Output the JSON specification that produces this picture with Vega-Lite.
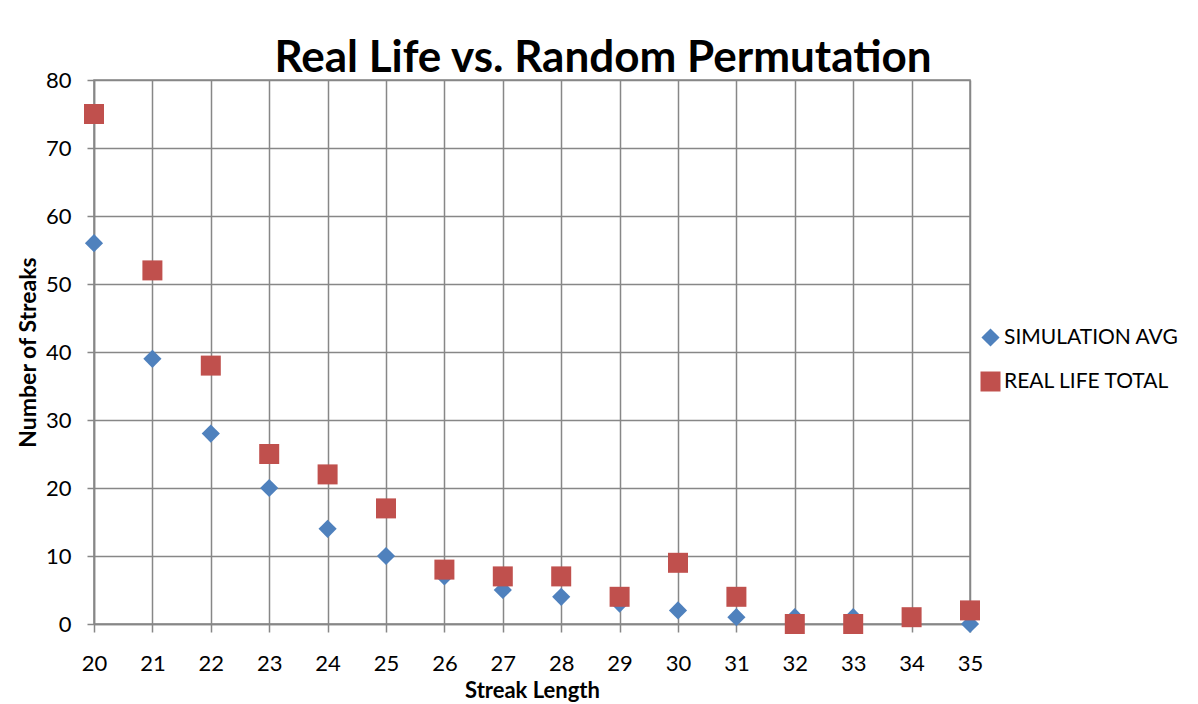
{
  "$schema": "https://vega.github.io/schema/vega-lite/v6.json",
  "width": 876,
  "height": 544,
  "autosize": {"type": "none"},
  "padding": {"left": 94, "top": 80, "right": 228, "bottom": 80},
  "background": "white",
  "title": {
    "text": "Real Life vs. Random Permutation",
    "font": "Lato",
    "fontSize": 44,
    "fontWeight": "bold",
    "color": "#000000",
    "anchor": "middle",
    "dx": 71,
    "offset": -12
  },
  "data": {
    "values": [
      {"len": 20, "series": "SIMULATION AVG", "n": 56},
      {"len": 21, "series": "SIMULATION AVG", "n": 39},
      {"len": 22, "series": "SIMULATION AVG", "n": 28},
      {"len": 23, "series": "SIMULATION AVG", "n": 20},
      {"len": 24, "series": "SIMULATION AVG", "n": 14},
      {"len": 25, "series": "SIMULATION AVG", "n": 10},
      {"len": 26, "series": "SIMULATION AVG", "n": 7},
      {"len": 27, "series": "SIMULATION AVG", "n": 5},
      {"len": 28, "series": "SIMULATION AVG", "n": 4},
      {"len": 29, "series": "SIMULATION AVG", "n": 3},
      {"len": 30, "series": "SIMULATION AVG", "n": 2},
      {"len": 31, "series": "SIMULATION AVG", "n": 1},
      {"len": 32, "series": "SIMULATION AVG", "n": 1},
      {"len": 33, "series": "SIMULATION AVG", "n": 1},
      {"len": 34, "series": "SIMULATION AVG", "n": 1},
      {"len": 35, "series": "SIMULATION AVG", "n": 0},
      {"len": 20, "series": "REAL LIFE TOTAL", "n": 75},
      {"len": 21, "series": "REAL LIFE TOTAL", "n": 52},
      {"len": 22, "series": "REAL LIFE TOTAL", "n": 38},
      {"len": 23, "series": "REAL LIFE TOTAL", "n": 25},
      {"len": 24, "series": "REAL LIFE TOTAL", "n": 22},
      {"len": 25, "series": "REAL LIFE TOTAL", "n": 17},
      {"len": 26, "series": "REAL LIFE TOTAL", "n": 8},
      {"len": 27, "series": "REAL LIFE TOTAL", "n": 7},
      {"len": 28, "series": "REAL LIFE TOTAL", "n": 7},
      {"len": 29, "series": "REAL LIFE TOTAL", "n": 4},
      {"len": 30, "series": "REAL LIFE TOTAL", "n": 9},
      {"len": 31, "series": "REAL LIFE TOTAL", "n": 4},
      {"len": 32, "series": "REAL LIFE TOTAL", "n": 0},
      {"len": 33, "series": "REAL LIFE TOTAL", "n": 0},
      {"len": 34, "series": "REAL LIFE TOTAL", "n": 1},
      {"len": 35, "series": "REAL LIFE TOTAL", "n": 2}
    ]
  },
  "mark": {"type": "point", "filled": true, "opacity": 1},
  "encoding": {
    "x": {
      "field": "len",
      "type": "quantitative",
      "title": "Streak Length",
      "scale": {"domain": [20, 35], "nice": false, "zero": false},
      "axis": {
        "values": [20,21,22,23,24,25,26,27,28,29,30,31,32,33,34,35],
        "grid": true,
        "gridColor": "#878787",
        "gridWidth": 1.5,
        "domainColor": "#878787",
        "domainWidth": 1.5,
        "tickColor": "#878787",
        "tickWidth": 1.5,
        "tickSize": 8,
        "labelFont": "Lato",
        "labelFontSize": 22,
        "labelColor": "#000000",
        "labelPadding": 21,
        "labelFlush": false,
        "labelOverlap": false,
        "labelBound": false,
        "titleFont": "Lato",
        "titleFontSize": 22,
        "titleFontWeight": "bold",
        "titleColor": "#000000",
        "titlePadding": 6
      }
    },
    "y": {
      "field": "n",
      "type": "quantitative",
      "title": "Number of Streaks",
      "scale": {"domain": [0, 80], "nice": false},
      "axis": {
        "values": [0, 10, 20, 30, 40, 50, 60, 70, 80],
        "grid": true,
        "gridColor": "#878787",
        "gridWidth": 1.5,
        "domainColor": "#878787",
        "domainWidth": 1.5,
        "tickColor": "#878787",
        "tickWidth": 1.5,
        "tickSize": 7,
        "labelFont": "Lato",
        "labelFontSize": 22,
        "labelColor": "#000000",
        "labelPadding": 16,
        "labelFlush": false,
        "labelOverlap": false,
        "titleFont": "Lato",
        "titleFontSize": 23,
        "titleFontWeight": "bold",
        "titleColor": "#000000",
        "titlePadding": 5
      }
    },
    "color": {
      "field": "series",
      "type": "nominal",
      "scale": {"domain": ["SIMULATION AVG", "REAL LIFE TOTAL"], "range": ["#4F81BD", "#C0504D"]},
      "legend": {
        "title": null,
        "orient": "none",
        "legendX": 886,
        "legendY": 247,
        "labelFont": "Lato",
        "labelFontSize": 21,
        "labelColor": "#000000",
        "labelLimit": 400,
        "symbolSize": 260,
        "rowPadding": 22,
        "labelOffset": 3,
        "symbolStrokeWidth": 0
      }
    },
    "shape": {
      "field": "series",
      "type": "nominal",
      "scale": {"domain": ["SIMULATION AVG", "REAL LIFE TOTAL"], "range": ["diamond", "square"]},
      "legend": null
    },
    "size": {
      "field": "series",
      "type": "nominal",
      "scale": {"domain": ["SIMULATION AVG", "REAL LIFE TOTAL"], "range": [330, 400]},
      "legend": null
    },
    "order": {"field": "series", "sort": "descending"}
  },
  "config": {
    "view": {"stroke": "#878787", "strokeWidth": 1.5}
  }
}
